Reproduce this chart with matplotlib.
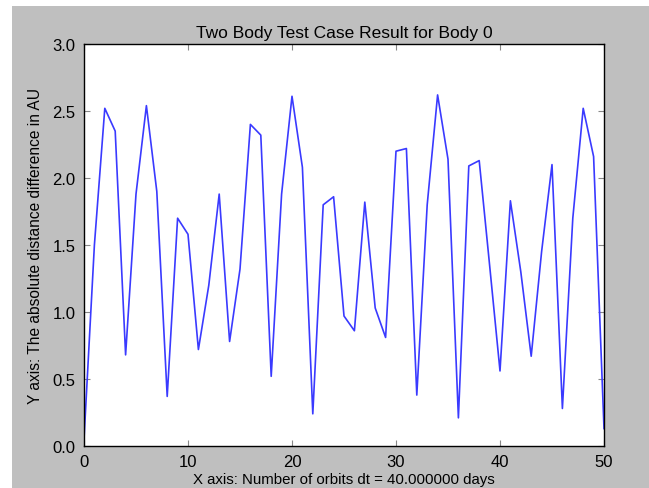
import matplotlib
matplotlib.use('Agg')
import matplotlib.pyplot as plt
from matplotlib.patches import Rectangle

orbits = list(range(51))
distance = [
    0.05, 1.50, 2.52, 2.35, 0.68, 1.88, 2.54, 1.90, 0.37, 1.70,
    1.58, 0.72, 1.20, 1.88, 0.78, 1.32, 2.40, 2.32, 0.52, 1.88,
    2.61, 2.08, 0.24, 1.80, 1.86, 0.97, 0.86, 1.82, 1.03, 0.81,
    2.20, 2.22, 0.38, 1.80, 2.62, 2.14, 0.21, 2.09, 2.13, 1.35,
    0.56, 1.83, 1.30, 0.67, 1.45, 2.10, 0.28, 1.70, 2.52, 2.16,
    0.13,
]
x_ticks = [0, 10, 20, 30, 40, 50]
y_ticks = [0.0, 0.5, 1.0, 1.5, 2.0, 2.5, 3.0]

plt.rcParams['font.family'] = ['Liberation Sans', 'DejaVu Sans']

fig = plt.figure(figsize=(6.49, 4.89), dpi=100, facecolor='white')
# grey canvas, leaving a thin white margin on the top and left edges
fig.patches.append(Rectangle((12 / 649, 0), 1, 1 - 7 / 489,
                             transform=fig.transFigure,
                             facecolor='#bfbfbf', edgecolor='none', zorder=-1))

ax = fig.add_axes([84 / 649, 1 - 447 / 489, 520 / 649, 402 / 489])
ax.plot(orbits, distance, color='#3a3aff', linewidth=1.2)

ax.set_xlim(0, 50)
ax.set_ylim(0, 3.0)
ax.set_xticks(x_ticks)
ax.set_yticks(y_ticks)
ax.set_yticklabels(['%.1f' % v for v in y_ticks])
ax.tick_params(direction='in', top=True, right=True, length=4,
               color='#888888', labelsize=12, pad=6)
for spine in ax.spines.values():
    spine.set_linewidth(1.0)

ax.set_title('Two Body Test Case Result for Body 0', fontsize=12.5, pad=5)
ax.set_xlabel('X axis: Number of orbits dt = 40.000000 days', fontsize=10.8, labelpad=2)
ax.set_ylabel('Y axis: The absolute distance difference in AU', fontsize=11.2, labelpad=7)

fig.savefig('out.png', dpi=100, facecolor=fig.get_facecolor())
